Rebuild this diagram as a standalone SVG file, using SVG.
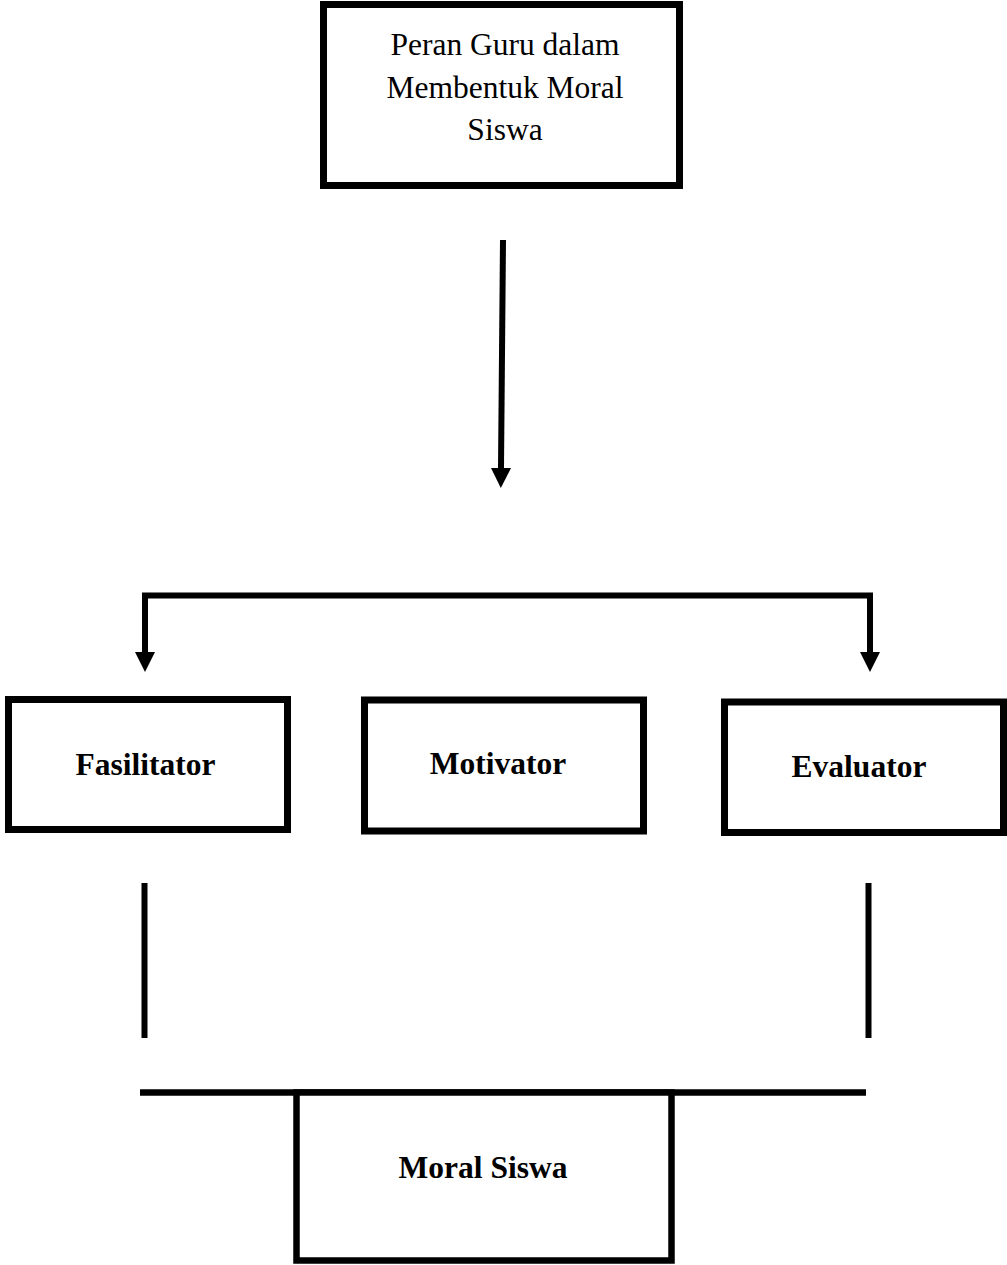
<svg xmlns="http://www.w3.org/2000/svg" width="1007" height="1265" viewBox="0 0 1007 1265">
<style>
.box{fill:#fff;stroke:#000;stroke-width:7}
.t{font-family:"Liberation Serif","Times New Roman",serif;font-size:31.5px;fill:#000;text-anchor:middle}
.b{font-weight:bold}
.ln{fill:none;stroke:#000;stroke-width:6}
</style>
<defs>
<marker id="ah" markerUnits="userSpaceOnUse" markerWidth="20" markerHeight="20" refX="0" refY="10" orient="auto" overflow="visible">
<path d="M0,0 L20,10 L0,20 z" fill="#000"/>
</marker>
</defs>
<rect width="1007" height="1265" fill="#fff"/>
<g id="connectors">
<path class="ln" d="M503,240 L501,468" marker-end="url(#ah)"/>
<path class="ln" d="M142,595.5 H873"/>
<path class="ln" d="M145,593 V652" marker-end="url(#ah)"/>
<path class="ln" d="M870,593 V652" marker-end="url(#ah)"/>
<path class="ln" d="M144.5,883 V1038"/>
<path class="ln" d="M868.5,883 V1038"/>
<path class="ln" style="stroke-width:6.5" d="M140,1092.5 H866"/>
</g>
<g id="node-peran">
<rect class="box" x="323.5" y="4.5" width="356" height="181"/>
<text class="t" x="505" y="55">Peran Guru dalam</text>
<text class="t" x="505" y="98">Membentuk Moral</text>
<text class="t" x="505" y="140">Siswa</text>
</g>
<g id="node-fasilitator">
<rect class="box" x="8.5" y="699.5" width="279" height="130"/>
<text class="t b" x="145.5" y="775">Fasilitator</text>
</g>
<g id="node-motivator">
<rect class="box" x="364.5" y="700" width="279" height="131"/>
<text class="t b" x="498" y="774">Motivator</text>
</g>
<g id="node-evaluator">
<rect class="box" x="724.5" y="702" width="279" height="130.5"/>
<text class="t b" x="859" y="777">Evaluator</text>
</g>
<g id="node-moral">
<rect class="box" style="stroke-width:6.5" x="296.5" y="1092.5" width="375" height="168"/>
<text class="t b" x="483" y="1178">Moral Siswa</text>
</g>
</svg>
